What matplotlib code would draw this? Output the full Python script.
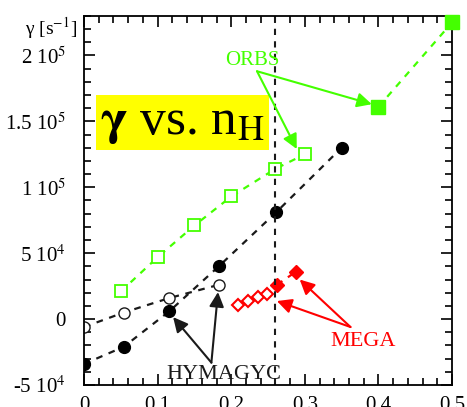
import matplotlib
matplotlib.use("Agg")
import matplotlib.pyplot as plt
from matplotlib.ticker import MultipleLocator, FixedLocator, FixedFormatter

plt.rcParams["font.family"] = ["Liberation Serif", "DejaVu Serif"]
plt.rcParams["mathtext.fontset"] = "stix"

# HYMAGYC, filled and open circles
hym_x = [0.0, 0.054, 0.116, 0.183, 0.261, 0.35]
hym_y = [-34e3, -21e3, 6e3, 40e3, 81e3, 130e3]
hym_open_x = [0.0, 0.054, 0.116, 0.183]
hym_open_y = [-6e3, 5e3, 16e3, 26e3]

# ORBS, open and filled squares
orb_x = [0.05, 0.10, 0.15, 0.20, 0.26, 0.30]
orb_y = [21e3, 47e3, 71e3, 93e3, 114e3, 125e3]
orb_fill_x = [0.40, 0.50]
orb_fill_y = [161e3, 225e3]

# MEGA, open and filled diamonds
mega_x = [0.209, 0.223, 0.236, 0.249]
mega_y = [11e3, 14e3, 16.5e3, 19e3]
mega_fill_x = [0.262, 0.288]
mega_fill_y = [26e3, 36e3]

ytick_vals = [-5e4, 0, 5e4, 1e5, 1.5e5, 2e5]
ytick_labels = ["-5 10$^{4}$", "0", "5 10$^{4}$", "1 10$^{5}$",
                "1.5 10$^{5}$", "2 10$^{5}$"]
xtick_vals = [0, 0.1, 0.2, 0.3, 0.4, 0.5]
xtick_labels = ["0", "0.1", "0.2", "0.3", "0.4", "0.5"]

green = "#44ff00"
red = "#ff0000"
dark = "#1a1a1a"
dash = (0, (3, 3))

fig = plt.figure(figsize=(4.67, 4.07), dpi=100)
ax = fig.add_axes([0.180, 0.054, 0.788, 0.907])

ax.plot(hym_x, hym_y, ls=dash, color=dark, lw=1.6,
        marker="o", ms=8.5, mfc="black", mec="black")
ax.plot(hym_open_x, hym_open_y, ls=dash, color=dark, lw=1.6,
        marker="o", ms=8, mfc="white", mec=dark, mew=1.0)
ax.plot(orb_x, orb_y, ls=dash, color=green, lw=1.6,
        marker="s", ms=8, mfc="white", mec=green, mew=1.3)
ax.plot(orb_fill_x, orb_fill_y, ls=dash, color=green, lw=1.6,
        marker="s", ms=10, mfc=green, mec=green, clip_on=False, zorder=5)
ax.plot(mega_x + mega_fill_x[:1], mega_y + mega_fill_y[:1], ls=dash,
        color=red, lw=1.6, marker="D", ms=6, mfc="white", mec=red, mew=1.5,
        markevery=[0, 1, 2, 3])
ax.plot(mega_fill_x, mega_fill_y, ls=dash, color=red, lw=1.6,
        marker="D", ms=7, mfc=red, mec=red)

ax.axvline(0.26, color=dark, ls=dash, lw=1.5)

ax.set_xlim(0, 0.5)
ax.set_ylim(-5e4, 2.3e5)
ax.xaxis.set_major_locator(FixedLocator(xtick_vals))
ax.xaxis.set_major_formatter(FixedFormatter(xtick_labels))
ax.xaxis.set_minor_locator(MultipleLocator(0.02))
ax.yaxis.set_major_locator(FixedLocator(ytick_vals))
ax.yaxis.set_major_formatter(FixedFormatter(ytick_labels))
ax.yaxis.set_minor_locator(MultipleLocator(1e4))
ax.tick_params(which="both", direction="in", top=True, right=True,
               labelsize=15, width=1.2)
ax.tick_params(which="major", length=8)
ax.tick_params(which="minor", length=5)
ax.tick_params(axis="y", labelsize=15, pad=13)
ax.tick_params(axis="y", which="both", right=True, direction="in")
ax.tick_params(axis="x", pad=8)
for s in ax.spines.values():
    s.set_linewidth(1.3)

fig.text(0.054, 0.914, "γ [s$^{-1}$]", fontsize=14, va="baseline")

ax.text(0.022, 149e3, r"$\mathbf{\gamma}$ vs. n$_\mathrm{H}$", fontsize=37,
        va="center", ha="left",
        bbox=dict(boxstyle="square,pad=0.08", fc="yellow", ec="none"))

arrow = dict(arrowstyle="-|>", mutation_scale=22, lw=1.5, shrinkA=0, shrinkB=0)

ax.text(0.228, 196e3, "ORBS", color=green, fontsize=15, ha="center", va="center")
ax.annotate("", xy=(0.391, 163e3), xytext=(0.235, 188e3),
            arrowprops=dict(arrow, color=green))
ax.annotate("", xy=(0.289, 129e3), xytext=(0.235, 188e3),
            arrowprops=dict(arrow, color=green))

ax.text(0.19, -42e3, "HYMAGYC", color=dark, fontsize=16, ha="center", va="center")
ax.annotate("", xy=(0.121, 1.5e3), xytext=(0.173, -33e3),
            arrowprops=dict(arrow, color=dark))
ax.annotate("", xy=(0.182, 20.5e3), xytext=(0.173, -33e3),
            arrowprops=dict(arrow, color=dark))

ax.text(0.379, -17e3, "MEGA", color=red, fontsize=16, ha="center", va="center")
ax.annotate("", xy=(0.262, 13.7e3), xytext=(0.362, -6e3),
            arrowprops=dict(arrow, color=red))
ax.annotate("", xy=(0.293, 30e3), xytext=(0.362, -6e3),
            arrowprops=dict(arrow, color=red))

fig.savefig("out.png", dpi=100)
